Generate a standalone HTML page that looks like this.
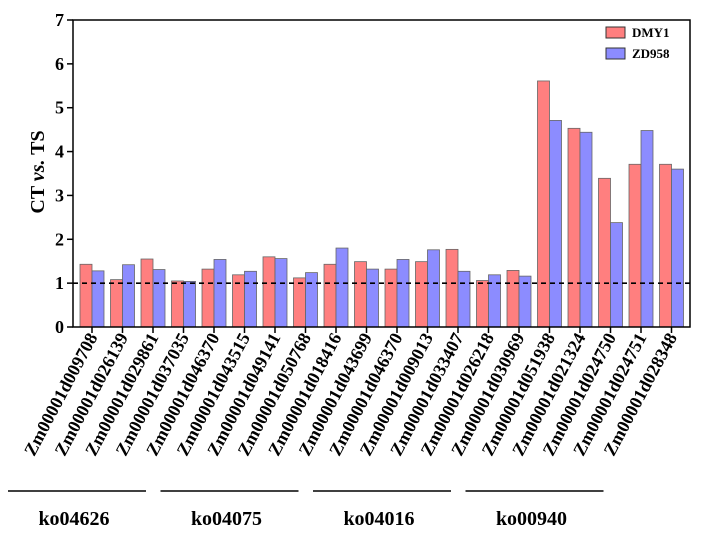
<!DOCTYPE html>
<html><head><meta charset="utf-8"><style>body{margin:0;background:#fff}svg{display:block}</style></head>
<body>
<svg id="chart" width="701" height="536" viewBox="0 0 701 536" font-family="Liberation Serif, serif" font-weight="bold"></svg>
<script>
const categories = ["Zm00001d009708","Zm00001d026139","Zm00001d029861","Zm00001d037035","Zm00001d046370","Zm00001d043515","Zm00001d049141","Zm00001d050768","Zm00001d018416","Zm00001d043699","Zm00001d046370","Zm00001d009013","Zm00001d033407","Zm00001d026218","Zm00001d030969","Zm00001d051938","Zm00001d021324","Zm00001d024750","Zm00001d024751","Zm00001d028348"];
const dmy1 = [1.43,1.08,1.55,1.05,1.32,1.19,1.60,1.12,1.43,1.49,1.32,1.49,1.77,1.06,1.29,5.61,4.53,3.39,3.71,3.71];
const zd958 = [1.28,1.42,1.31,1.04,1.54,1.27,1.56,1.24,1.80,1.32,1.54,1.76,1.27,1.19,1.16,4.71,4.44,2.38,4.48,3.60];
const yTicks = [0,1,2,3,4,5,6,7];
const groups = ["ko04626","ko04075","ko04016","ko00940"];
const groupStart = [0,5,10,15];
const refLine = 1;

const svg = document.getElementById('chart');
const NS = 'http://www.w3.org/2000/svg';
const X0 = 73, X1 = 690, Y0 = 327, Y1 = 20;
const xTick0 = 92, step = 30.5, bw = 12;
const yS = v => Y0 - v / 7 * (Y0 - Y1);
const xC = i => xTick0 + i * step;
function mk(tag, attrs, parent) {
  const e = document.createElementNS(NS, tag);
  for (const k in attrs) e.setAttribute(k, attrs[k]);
  (parent || svg).appendChild(e);
  return e;
}
categories.forEach((c, i) => {
  const r = mk('rect', {x: xC(i) - bw, y: yS(dmy1[i]), width: bw, height: Y0 - yS(dmy1[i]), fill: '#ff7f7f', stroke: '#666', 'stroke-width': 0.8});
  
  
  const b = mk('rect', {x: xC(i), y: yS(zd958[i]), width: bw, height: Y0 - yS(zd958[i]), fill: '#8c8cff', stroke: '#666', 'stroke-width': 0.8});
  
  
  const t = mk('line', {x1: xC(i), x2: xC(i), y1: Y0, y2: Y0 + 6, stroke: '#000', 'stroke-width': 1.5});
  
  
  const lx = xC(i) + 6, ly = 337;
  const l = mk('text', {x: lx, y: ly, 'text-anchor': 'end', 'font-size': 18, transform: `rotate(-62 ${lx} ${ly})`});
  l.textContent = c;
  
  
});
const rl = mk('line', {x1: X0, x2: X1, y1: yS(refLine), y2: yS(refLine), stroke: '#000', 'stroke-width': 1.6, 'stroke-dasharray': '5,4'});


const fr = mk('rect', {x: X0, y: Y1, width: X1 - X0, height: Y0 - Y1, fill: 'none', stroke: '#000', 'stroke-width': 1.5});


yTicks.forEach(v => {
  const t = mk('line', {x1: X0 - 6, x2: X0, y1: yS(v), y2: yS(v), stroke: '#000', 'stroke-width': 1.5});
  
  
  const l = mk('text', {x: X0 - 9, y: yS(v) + 6, 'text-anchor': 'end', 'font-size': 18});
  l.textContent = v;
  
  
});
const yt = mk('text', {x: 44, y: 172, 'text-anchor': 'middle', 'font-size': 20, transform: 'rotate(-90 44 172)'});
yt.innerHTML = 'CT <tspan font-style="italic">vs.</tspan> TS';


groups.forEach((g, k) => {
  const xa = xC(groupStart[k]) - 84, xb = xa + 138;
  const gl = mk('line', {x1: xa, x2: xb, y1: 491, y2: 491, stroke: '#000', 'stroke-width': 1.5});
  
  
  const gt = mk('text', {x: (xa + xb) / 2 - 3, y: 525, 'text-anchor': 'middle', 'font-size': 20});
  gt.textContent = g;
  
  
});
const lg = mk('g', {});


[['DMY1', '#ff7f7f', 27], ['ZD958', '#8c8cff', 48]].forEach(([n, c, y]) => {
  const r = mk('rect', {x: 606, y: y, width: 19, height: 11, fill: c, stroke: '#333', 'stroke-width': 1}, lg);
  
  
  const t = mk('text', {x: 632, y: y + 10, 'font-size': 13}, lg);
  t.textContent = n;
  
  
});
</script>
</body></html>
